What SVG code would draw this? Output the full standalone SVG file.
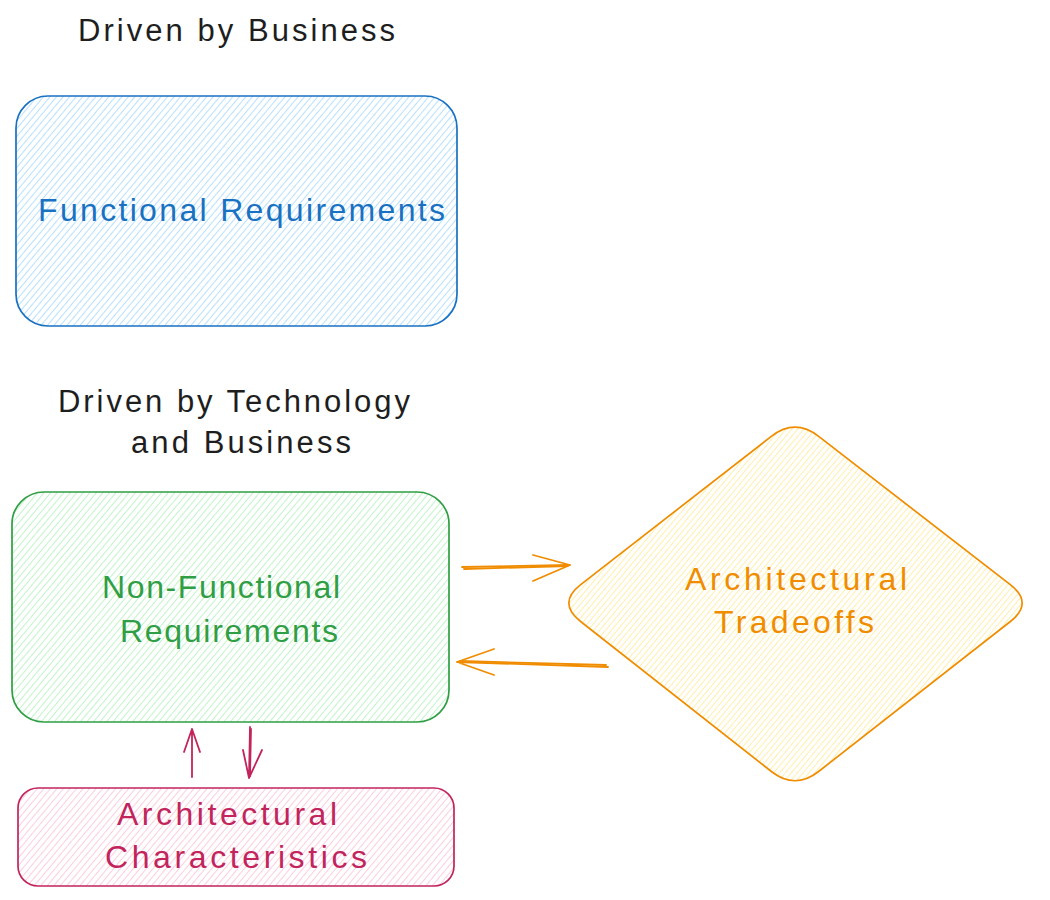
<svg xmlns="http://www.w3.org/2000/svg" width="1050" height="900" viewBox="0 0 1050 900">
<style>
.t{font-family:"Liberation Sans",Arial,sans-serif;text-anchor:middle}
.title{font-size:31px;fill:#1e1e1e}
.lbl{font-size:32px}
.shape{stroke-width:1.7;stroke-linejoin:round}
.arr{fill:none;stroke-width:1.8;stroke-linecap:round;stroke-linejoin:round}
</style>
<defs>
<pattern id="hBlue" width="5" height="5" patternUnits="userSpaceOnUse" patternTransform="rotate(40)"><line x1="0" y1="0" x2="0" y2="5" stroke="#a5d8ff" stroke-width="1.6"/></pattern>
<pattern id="hGreen" width="5" height="5" patternUnits="userSpaceOnUse" patternTransform="rotate(40)"><line x1="0" y1="0" x2="0" y2="5" stroke="#b2f2bb" stroke-width="1.6"/></pattern>
<pattern id="hPink" width="5" height="5" patternUnits="userSpaceOnUse" patternTransform="rotate(40)"><line x1="0" y1="0" x2="0" y2="5" stroke="#fcc2d7" stroke-width="1.6"/></pattern>
<pattern id="hYellow" width="4.5" height="4.5" patternUnits="userSpaceOnUse" patternTransform="rotate(40)"><line x1="0" y1="0" x2="0" y2="4.5" stroke="#ffec99" stroke-width="1.6"/></pattern>
</defs>
<rect width="1050" height="900" fill="#ffffff"/>

<g id="title-business">
<text class="t title" x="236.5" y="41" textLength="317" lengthAdjust="spacing">Driven by Business</text>
</g>
<g id="title-tech">
<text class="t title" x="234" y="412" textLength="352" lengthAdjust="spacing">Driven by Technology</text>
<text class="t title" x="241" y="453" textLength="220" lengthAdjust="spacing">and Business</text>
</g>

<g id="functional">
<rect class="shape" x="16" y="96" width="441" height="230" rx="32" fill="url(#hBlue)" stroke="#1971c2"/>
<text class="t lbl" x="241.5" y="221" fill="#1971c2" font-size="34" textLength="407" lengthAdjust="spacing">Functional Requirements</text>
</g>

<g id="nonfunctional">
<rect class="shape" x="12" y="492" width="437" height="230" rx="32" fill="url(#hGreen)" stroke="#2f9e44"/>
<text class="t lbl" x="221" y="598" fill="#2f9e44" textLength="238" lengthAdjust="spacing">Non-Functional</text>
<text class="t lbl" x="229" y="642" fill="#2f9e44" textLength="218" lengthAdjust="spacing">Requirements</text>
</g>

<g id="characteristics">
<rect class="shape" x="18" y="788" width="436" height="98" rx="20" fill="url(#hPink)" stroke="#c2255c"/>
<text class="t lbl" x="227" y="825" fill="#c2255c" textLength="220" lengthAdjust="spacing">Architectural</text>
<text class="t lbl" x="236" y="868" fill="#c2255c" textLength="262" lengthAdjust="spacing">Characteristics</text>
</g>

<g id="tradeoffs">
<path class="shape" d="M580.7,584.6 L771.3,436.4 Q795,418 818.7,436.4 L1010.3,584.6 Q1034,603 1010.4,621.5 L818.6,771.5 Q795,790 771.4,771.5 L580.6,621.5 Q557,603 580.7,584.6 Z" fill="url(#hYellow)" stroke="#f08c00"/>
<text class="t lbl" x="796" y="590" fill="#f08c00" textLength="222" lengthAdjust="spacing">Architectural</text>
<text class="t lbl" x="794" y="633" fill="#f08c00" textLength="160" lengthAdjust="spacing">Tradeoffs</text>
</g>

<g id="connectors">
<g stroke="#f08c00">
<path class="arr" d="M462,567 L570,565 M533,555 L570,565 L533,581"/>
<path class="arr" d="M464,569 L568,566" stroke-width="1"/>
<path class="arr" d="M608,667 L457,662 M494,649 L457,662 L494,675"/>
<path class="arr" d="M606,665 L460,661" stroke-width="1"/>
</g>
<g stroke="#c2255c">
<path class="arr" d="M192,777 L192,729 M184,752 L192,729 L200,752"/>
<path class="arr" d="M250,727 L249,778 M243,750 L249,778 L262,750"/>
<path class="arr" d="M251,729 L250,776" stroke-width="1"/>
</g>
</g>
</svg>
